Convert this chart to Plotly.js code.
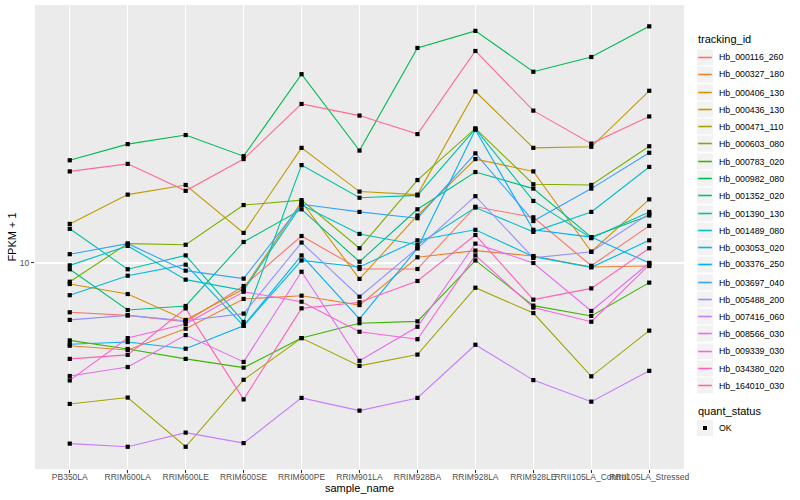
<!DOCTYPE html>
<html>
<head>
<meta charset="utf-8">
<script src="https://cdn.plot.ly/plotly-3.0.1.min.js"></script>
<style>html,body{margin:0;padding:0;background:#fff}#chart{width:800px;height:500px}</style>
</head>
<body>
<div id="chart"></div>
<script>
// x categories
const samples = ["PB350LA","RRIM600LA","RRIM600LE","RRIM600SE","RRIM600PE","RRIM901LA","RRIM928BA","RRIM928LA","RRIM928LE","RRII105LA_Control","RRII105LA_Stressed"];

// series (FPKM + 1), one per tracking_id
const Hb_000116_260 = [6.85, 6.69, 6.37, 8.38, 12.3, 9.55, 9.55, 15.4, 14.2, 9.79, 13.3];
const Hb_000327_180 = [5.30, 5.13, 6.04, 7.59, 7.78, 7.24, 10.45, 11.0, 10.55, 9.70, 9.77];
const Hb_000406_130 = [8.51, 7.88, 6.46, 8.19, 16.0, 8.85, 14.4, 22.2, 20.2, 10.9, 16.3];
const Hb_000436_130 = [13.5, 16.9, 18.2, 12.6, 24.2, 17.3, 16.9, 37.3, 24.2, 24.4, 37.5];
const Hb_000471_110 = [3.39, 3.56, 2.44, 4.08, 5.62, 4.54, 4.95, 8.27, 6.81, 4.19, 5.95];
const Hb_000603_080 = [8.66, 11.6, 11.5, 15.6, 16.2, 11.2, 18.9, 28.1, 18.3, 18.2, 24.5];
const Hb_000783_020 = [5.52, 5.17, 4.79, 4.48, 5.62, 6.30, 6.39, 10.2, 7.21, 6.66, 8.60];
const Hb_000982_080 = [22.0, 24.9, 26.7, 22.7, 42.6, 23.7, 52.1, 59.4, 43.4, 48.6, 61.5];
const Hb_001352_020 = [9.53, 6.97, 7.19, 11.75, 15.1, 10.1, 15.1, 20.1, 17.7, 12.2, 14.4];
const Hb_001390_130 = [13.0, 9.53, 10.6, 6.36, 21.2, 16.5, 16.8, 28.0, 16.1, 12.1, 14.8];
const Hb_001489_080 = [9.82, 11.4, 8.80, 8.11, 15.6, 12.5, 11.5, 15.3, 12.7, 14.8, 20.9];
const Hb_003053_020 = [7.81, 9.07, 9.87, 6.17, 10.2, 9.70, 11.9, 12.9, 10.5, 9.67, 11.9];
const Hb_003376_250 = [5.36, 5.45, 5.18, 6.18, 10.6, 6.51, 11.2, 27.8, 12.9, 12.2, 10.0];
const Hb_003697_040 = [10.7, 11.6, 9.43, 8.87, 15.7, 14.8, 14.1, 23.2, 13.8, 17.7, 23.3];
const Hb_005488_200 = [6.46, 6.69, 6.42, 6.78, 11.7, 7.72, 11.2, 16.7, 10.4, 10.9, 14.6];
const Hb_007416_060 = [2.50, 2.44, 2.72, 2.51, 3.55, 3.22, 3.55, 5.34, 4.07, 3.45, 4.37];
const Hb_008566_030 = [4.20, 4.50, 5.75, 4.68, 9.35, 4.72, 6.13, 11.6, 10.0, 6.92, 10.0];
const Hb_009339_030 = [4.06, 5.62, 6.26, 8.02, 7.43, 5.90, 5.57, 10.6, 7.10, 6.37, 9.85];
const Hb_034380_020 = [4.79, 4.94, 7.06, 3.51, 7.06, 7.40, 8.71, 12.4, 7.55, 8.23, 11.2];
const Hb_164010_030 = [20.2, 21.4, 17.4, 22.2, 33.9, 31.0, 26.9, 50.9, 32.2, 25.0, 30.8];

const trackingIds = ["Hb_000116_260","Hb_000327_180","Hb_000406_130","Hb_000436_130","Hb_000471_110","Hb_000603_080","Hb_000783_020","Hb_000982_080","Hb_001352_020","Hb_001390_130","Hb_001489_080","Hb_003053_020","Hb_003376_250","Hb_003697_040","Hb_005488_200","Hb_007416_060","Hb_008566_030","Hb_009339_030","Hb_034380_020","Hb_164010_030"];
const seriesValues = [Hb_000116_260,Hb_000327_180,Hb_000406_130,Hb_000436_130,Hb_000471_110,Hb_000603_080,Hb_000783_020,Hb_000982_080,Hb_001352_020,Hb_001390_130,Hb_001489_080,Hb_003053_020,Hb_003376_250,Hb_003697_040,Hb_005488_200,Hb_007416_060,Hb_008566_030,Hb_009339_030,Hb_034380_020,Hb_164010_030];
const colors = ["#F8766D","#EA8331","#D89000","#C09B00","#A3A500","#7CAE00","#39B600","#00BB4E","#00BF7D","#00C1A3","#00BFC4","#00BAE0","#00B0F6","#35A2FF","#9590FF","#C77CFF","#E76BF3","#FA62DB","#FF62BC","#FF6C91"];
const quantStatus = ["OK"];

const traces = trackingIds.map((id, i) => ({
  type: "scatter", mode: "lines", name: id,
  x: samples, y: seriesValues[i],
  line: {color: colors[i], width: 1.1},
  showlegend: false
}));
const px = [], py = [];
seriesValues.forEach(v => v.forEach((val, j) => { px.push(samples[j]); py.push(val); }));
traces.push({
  type: "scatter", mode: "markers", name: quantStatus[0], x: px, y: py,
  marker: {color: "#000000", symbol: "square", size: 4.2},
  showlegend: false
});

// ---- ggplot-style legend drawn with shapes + annotations (paper coords) ----
const FAM = "Liberation Sans, Arial, sans-serif";
const plotL = 35, plotR = 684, plotT = 5, plotB = 469;
const toX = p => (p - plotL) / (plotR - plotL);
const toY = p => (plotB - p) / (plotB - plotT);
const shapes = [], annotations = [];
function legendTitle(text, yPix) {
  annotations.push({xref: "paper", yref: "paper", x: toX(696), y: toY(yPix), xanchor: "left", yanchor: "middle",
    text: text, showarrow: false, font: {size: 11, color: "#000", family: FAM}});
}
function keyBox(yPix) {
  shapes.push({type: "rect", xref: "paper", yref: "paper", x0: toX(696.5), x1: toX(713.5),
    y0: toY(yPix + 8.5), y1: toY(yPix - 8.5), fillcolor: "#F2F2F2", line: {color: "#FFFFFF", width: 1}, layer: "above"});
}
function keyLabel(text, yPix) {
  annotations.push({xref: "paper", yref: "paper", x: toX(716.5), y: toY(yPix), xanchor: "left", yanchor: "middle",
    text: text, showarrow: false, font: {size: 8.8, color: "#000", family: FAM}});
}
legendTitle("tracking_id", 39);
trackingIds.forEach((id, i) => {
  const yc = Math.round(57 + i * 17.28) + 0.5;
  keyBox(yc);
  shapes.push({type: "line", xref: "paper", yref: "paper", x0: toX(698.2), x1: toX(711.8), y0: toY(yc), y1: toY(yc),
    line: {color: colors[i], width: 1.6}, layer: "above"});
  keyLabel(id, yc);
});
legendTitle("quant_status", 411);
keyBox(428);
shapes.push({type: "rect", xref: "paper", yref: "paper", x0: toX(703), x1: toX(707), y0: toY(430), y1: toY(426),
  fillcolor: "#000000", line: {width: 0}, layer: "above"});
keyLabel(quantStatus[0], 428);

const layout = {
  width: 800, height: 500,
  paper_bgcolor: "#FFFFFF", plot_bgcolor: "#EBEBEB",
  margin: {l: plotL, r: 800 - plotR, t: plotT, b: 500 - plotB},
  font: {family: FAM, color: "#000"},
  showlegend: false,
  shapes: shapes, annotations: annotations,
  xaxis: {
    type: "category", range: [-0.6, 10.6],
    tickmode: "array", tickvals: samples, ticktext: samples, tickangle: 0,
    ticks: "outside", ticklen: 3, tickcolor: "#333333", tickwidth: 1, ticklabelstandoff: -3,
    tickfont: {size: 8.5, color: "#4D4D4D", family: FAM},
    showgrid: true, gridcolor: "#FFFFFF", gridwidth: 1.1, zeroline: false, showline: false,
    automargin: false,
    title: {text: "sample_name", font: {size: 11, color: "#000", family: FAM}, standoff: 0}
  },
  yaxis: {
    type: "log", range: [0.3133, 1.86],
    tickmode: "array", tickvals: [10], ticktext: ["10"],
    ticks: "outside", ticklen: 3, tickcolor: "#333333", tickwidth: 1,
    tickfont: {size: 8.5, color: "#4D4D4D", family: FAM},
    showgrid: true, gridcolor: "#FFFFFF", gridwidth: 1.1, zeroline: false, showline: false,
    automargin: false,
    title: {text: "FPKM + 1", font: {size: 11, color: "#000", family: FAM}, standoff: 0}
  }
};
Plotly.newPlot("chart", traces, layout, {displayModeBar: false, staticPlot: true});
</script>
</body>
</html>
